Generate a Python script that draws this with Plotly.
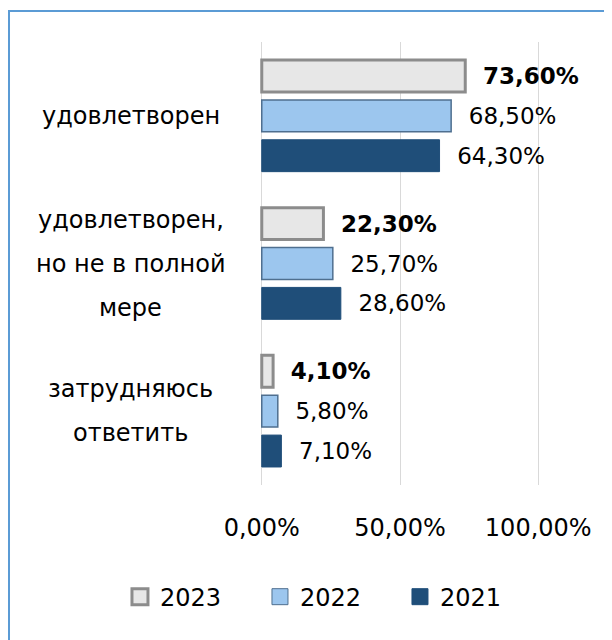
import plotly.graph_objects as go

categories = ["затрудняюсь\nответить", "удовлетворен,\nно не в полной\nмере", "удовлетворен"]
years = ["2021", "2022", "2023"]
values_2021 = [7.10, 28.60, 64.30]
values_2022 = [5.80, 25.70, 68.50]
values_2023 = [4.10, 22.30, 73.60]
tick_values = [0, 50, 100]
tick_labels = [f"{v:.2f}%".replace(".", ",") for v in tick_values]

FONT = "DejaVu Sans"
series = [
    ("2021", values_2021, dict(color="#1F4E79", line=dict(color="#1F4E79", width=1)), False),
    ("2022", values_2022, dict(color="#9CC6EE", line=dict(color="#4F6F8F", width=1.5)), False),
    ("2023", values_2023, dict(color="#E7E7E7", line=dict(color="#8C8C8C", width=3)), True),
]

fig = go.Figure()
for name, vals, marker, bold in series:
    tmpl = "\u00a0\u00a0%{x:.2f}%"
    if bold:
        tmpl = "\u00a0\u00a0<b>%{x:.2f}%</b>"
    fig.add_trace(go.Bar(
        y=categories, x=vals, orientation="h", name=name, marker=marker,
        texttemplate=tmpl, textposition="outside", cliponaxis=False,
        constraintext="none", textfont=dict(family=FONT, size=23, color="black"),
        showlegend=False, hoverinfo="skip",
    ))
    fig.add_trace(go.Scatter(
        x=[None], y=[None], mode="markers", name=name,
        marker=dict(symbol="square", size=19, color=marker["color"],
                    line=dict(color=marker["line"]["color"], width=3 if bold else 1)),
        showlegend=True,
    ))

for cat in categories:
    lines = cat.split("\n")
    n = len(lines)
    for i, ln in enumerate(lines):
        fig.add_annotation(
            xref="paper", yref="y", x=-0.454, y=cat, text=ln, showarrow=False,
            xanchor="center", yanchor="middle", yshift=((n - 1) / 2 - i) * 44,
            font=dict(family=FONT, size=24, color="black"),
        )

fig.add_shape(type="rect", xref="paper", yref="paper",
              x0=-0.8865, x1=2.0, y0=-1.0, y1=1.07,
              line=dict(color="#5B9BD5", width=2), fillcolor="rgba(0,0,0,0)", layer="below")

fig.update_layout(
    width=604, height=632,
    margin=dict(l=251, r=71, t=34, b=155, autoexpand=False),
    paper_bgcolor="white", plot_bgcolor="white",
    barmode="group", bargap=0.19, bargroupgap=0.2,
    separators=", ",
    legend=dict(orientation="h", x=-0.493, xanchor="left", y=-0.253, yanchor="middle",
                traceorder="reversed", font=dict(family=FONT, size=24, color="black"),
                entrywidth=95, entrywidthmode="pixels"),
    xaxis=dict(range=[-1, 101], tickvals=tick_values, ticktext=tick_labels,
               showgrid=True, gridcolor="#D9D9D9", gridwidth=1, zeroline=False,
               showline=False, ticks="", ticklabelstandoff=26,
               tickfont=dict(family=FONT, size=24, color="black")),
    yaxis=dict(showticklabels=False, showgrid=False, zeroline=False, showline=False,
               ticks=""),
)

fig.write_html("out.html")
